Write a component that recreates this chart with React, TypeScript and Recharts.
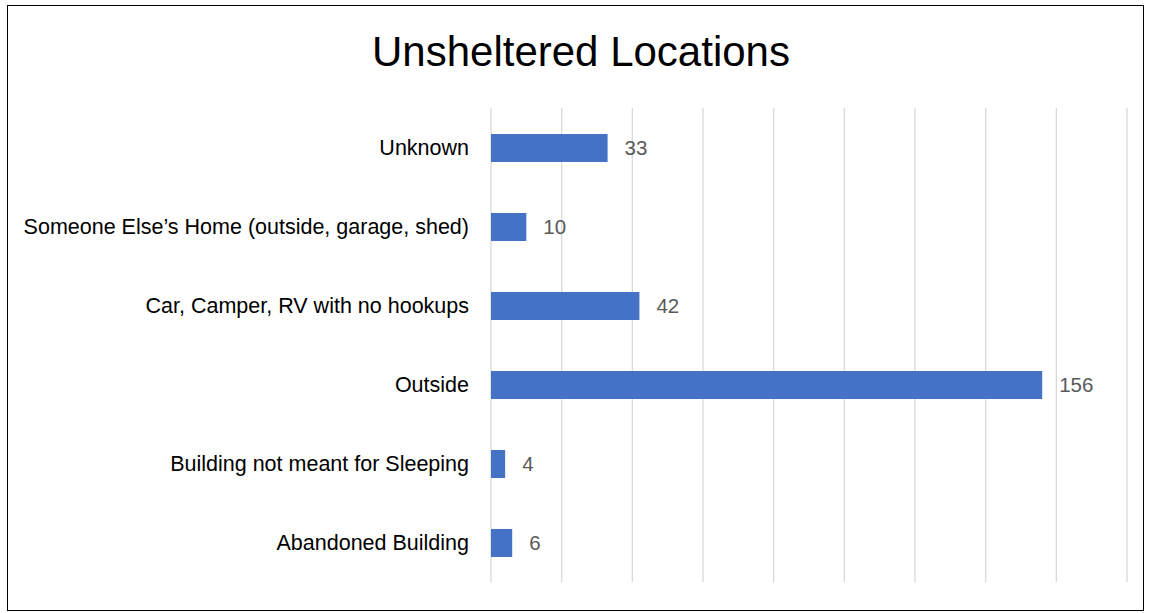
import { BarChart, Bar, XAxis, YAxis, CartesianGrid, LabelList } from "recharts";

// datos del grafico
const locations = [
  "Unknown",
  "Someone Else\u2019s Home (outside, garage, shed)",
  "Car, Camper, RV with no hookups",
  "Outside",
  "Building not meant for Sleeping",
  "Abandoned Building",
];
const counts = [33, 10, 42, 156, 4, 6];
const xTicks = [0, 20, 40, 60, 80, 100, 120, 140, 160, 180];

const data = locations.map((name, i) => ({ name, value: counts[i] }));

const font = "'Liberation Sans', Arial, sans-serif";

export default function App() {
  return (
    <div
      style={{
        position: "absolute",
        left: 7,
        top: 5,
        width: 1137,
        height: 606,
        boxSizing: "border-box",
        border: "1px solid #000",
        background: "#fff",
        fontFamily: font,
      }}
    >
      {/* titulo */}
      <div
        style={{
          position: "absolute",
          left: 364,
          top: 25,
          fontSize: 42,
          lineHeight: "42px",
          color: "#000",
          whiteSpace: "nowrap",
        }}
      >
        Unsheltered Locations
      </div>
      <div style={{ position: "absolute", left: 0, top: 0 }}>
        <BarChart
          width={1135}
          height={604}
          data={data}
          layout="vertical"
          margin={{ top: 102, right: 16, bottom: 28, left: 0 }}
        >
          <CartesianGrid horizontal={false} stroke="#d9d9d9" strokeWidth={1.3} />
          <XAxis type="number" domain={[0, 180]} ticks={xTicks} hide />
          <YAxis
            type="category"
            dataKey="name"
            width={483}
            axisLine={false}
            tickLine={false}
            tickMargin={16}
            tick={{ fill: "#000", fontSize: 21.5, fontFamily: font }}
          />
          <Bar dataKey="value" fill="#4472C4" barSize={28} isAnimationActive={false}>
            <LabelList
              dataKey="value"
              position="right"
              offset={17}
              fill="#595959"
              fontSize={20.5}
              fontFamily={font}
            />
          </Bar>
        </BarChart>
      </div>
    </div>
  );
}
